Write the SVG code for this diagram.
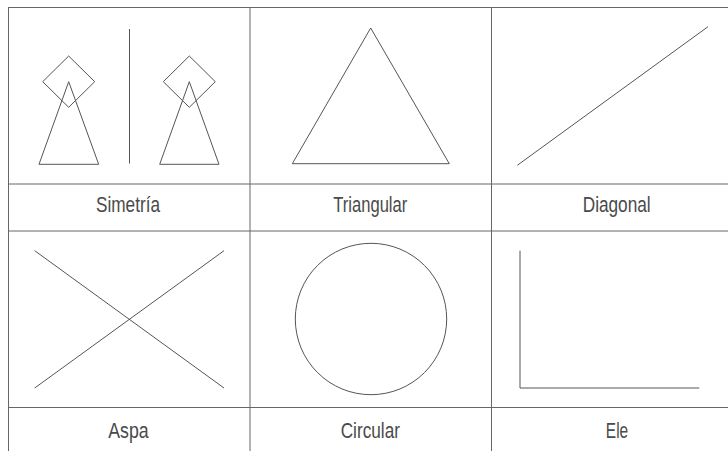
<svg xmlns="http://www.w3.org/2000/svg" width="728" height="451" viewBox="0 0 728 451">
<style>
.grid{stroke:#666;stroke-width:1;fill:none}
.shape{stroke:#555;stroke-width:1;fill:none}
.lbl{font-family:"Liberation Sans",Arial,sans-serif;font-size:22px;fill:#4a4a4a;text-anchor:middle}
</style>
<rect width="728" height="451" fill="#fff"/>
<g id="grid" class="grid">
<line x1="8" y1="7.5" x2="728" y2="7.5"/>
<line x1="8" y1="184" x2="728" y2="184"/>
<line x1="8" y1="231" x2="728" y2="231"/>
<line x1="8" y1="407.5" x2="728" y2="407.5"/>
<line x1="8.5" y1="7" x2="8.5" y2="451"/>
<line x1="250" y1="7" x2="250" y2="451"/>
<line x1="491.5" y1="7" x2="491.5" y2="451"/>
</g>
<g id="simetria">
<g class="shape">
<line x1="129.5" y1="29" x2="129.5" y2="163.5"/>
<polygon points="68.7,56 94.7,81.7 68.7,107.3 42.7,81.7"/>
<polygon points="68.7,81.7 98.7,164.3 39,164.3"/>
<polygon points="189.3,56 215.3,81.7 189.3,107.3 163.3,81.7"/>
<polygon points="189.3,81.7 219,164.3 159.7,164.3"/>
</g>
<text class="lbl" x="128" y="212.3" textLength="64" lengthAdjust="spacingAndGlyphs">Simetría</text>
</g>
<g id="triangular">
<polygon class="shape" points="370.7,28 449.3,163.7 292.3,163.7"/>
<text class="lbl" x="370.3" y="212.3" textLength="74" lengthAdjust="spacingAndGlyphs">Triangular</text>
</g>
<g id="diagonal">
<line class="shape" x1="517.3" y1="165.3" x2="708" y2="26.7"/>
<text class="lbl" x="616.7" y="212.3" textLength="68" lengthAdjust="spacingAndGlyphs">Diagonal</text>
</g>
<g id="aspa">
<g class="shape">
<line x1="34.7" y1="250.7" x2="224" y2="388"/>
<line x1="34.7" y1="388" x2="224" y2="250.7"/>
</g>
<text class="lbl" x="128.5" y="438" textLength="40.4" lengthAdjust="spacingAndGlyphs">Aspa</text>
</g>
<g id="circular">
<circle class="shape" cx="371" cy="319" r="75.7"/>
<text class="lbl" x="370.3" y="438" textLength="59.3" lengthAdjust="spacingAndGlyphs">Circular</text>
</g>
<g id="ele">
<polyline class="shape" points="520,250.7 520,388 699.3,388"/>
<text class="lbl" x="617" y="438" textLength="22.3" lengthAdjust="spacingAndGlyphs">Ele</text>
</g>
</svg>
